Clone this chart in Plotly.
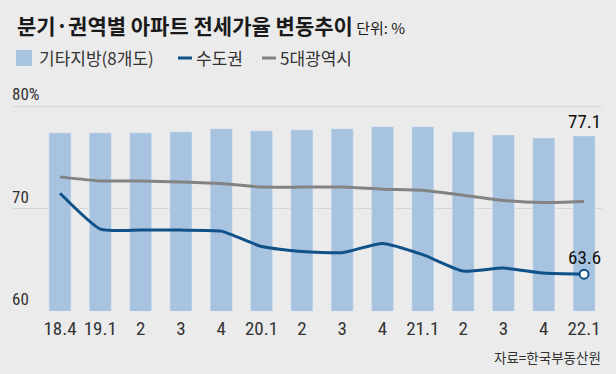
import plotly.graph_objects as go

categories = ["18.4", "19.1", "2 ", "3 ", "4 ", "20.1", "2  ", "3  ", "4  ", "21.1", "2   ", "3   ", "4   ", "22.1"]
tick_labels = ["18.4", "19.1", "2", "3", "4", "20.1", "2", "3", "4", "21.1", "2", "3", "4", "22.1"]
local_8 = [77.4, 77.4, 77.4, 77.5, 77.8, 77.6, 77.7, 77.8, 78.0, 78.0, 77.5, 77.2, 76.9, 77.1]
capital = [71.5, 68.0, 67.9, 67.9, 67.8, 66.3, 65.8, 65.7, 66.6, 65.5, 63.9, 64.2, 63.7, 63.6]
metro5 = [73.1, 72.7, 72.7, 72.6, 72.45, 72.1, 72.1, 72.1, 71.9, 71.8, 71.3, 70.8, 70.6, 70.7]

BG = "#ebebeb"
BAR = "#a8c3e0"
BLUE = "#0f5189"
GRAY = "#838383"
NUM_FONT = "Liberation Sans Narrow, Roboto Condensed, DejaVu Sans Condensed, Noto Sans CJK KR, sans-serif"
KR_FONT = "Noto Sans CJK KR, Noto Sans, sans-serif"

W, H = 616, 374
L, R, T, B = 13, 14, 70, 63
PW, PH = W - L - R, H - T - B


def px(x):
    return (x - L) / PW


def py(y):
    return (H - B - y) / PH


last = len(categories) - 1

fig = go.Figure()
fig.add_trace(go.Bar(x=categories, y=local_8, name="기타지방(8개도)", marker_color=BAR,
                     width=0.55, base=0, showlegend=False, hoverinfo="y"))
fig.add_trace(go.Scatter(x=categories, y=metro5, name="5대광역시", mode="lines",
                         line=dict(color=GRAY, width=3, shape="spline", smoothing=0.5),
                         showlegend=False))
fig.add_trace(go.Scatter(x=categories, y=capital, name="수도권", mode="lines",
                         line=dict(color=BLUE, width=3, shape="spline", smoothing=0.5),
                         showlegend=False))
fig.add_trace(go.Scatter(x=[categories[-1]], y=[capital[-1]], mode="markers",
                         marker=dict(color="white", size=9, line=dict(color=BLUE, width=2)),
                         showlegend=False, hoverinfo="skip"))

fig.update_layout(
    width=W, height=H,
    margin=dict(l=L, r=R, t=T, b=B),
    paper_bgcolor=BG, plot_bgcolor=BG,
    xaxis=dict(type="category", range=[-1.166, 13.445], tickmode="array",
               tickvals=categories, ticktext=tick_labels, showgrid=False,
               showline=False, ticks="", zeroline=False, ticklabelstandoff=4,
               tickfont=dict(family=NUM_FONT, size=19, color="#333333")),
    yaxis=dict(range=[60, 83.54], tickmode="array", tickvals=[60, 70, 80],
               ticktext=["60", "70", "80%"], ticklabelposition="inside top",
               ticklabelstandoff=-4,
               showgrid=True, gridcolor="#d6d6d6", gridwidth=1, zeroline=False,
               showline=False, ticks="",
               tickfont=dict(family=NUM_FONT, size=17, color="#333333")),
    font=dict(family=KR_FONT, color="#222222"),
    showlegend=False,
)

annotations = [
    dict(x=px(15), y=py(25), xref="paper", yref="paper", xanchor="left", yanchor="middle",
         text="<b>분기·권역별 아파트 전세가율 변동추이</b><span style='font-size:15px'> 단위: %</span>",
         showarrow=False, font=dict(family=KR_FONT, size=21, color="#1a1a1a")),
    dict(x=px(37), y=py(58), xref="paper", yref="paper", xanchor="left", yanchor="middle",
         text="기타지방(8개도)", showarrow=False, font=dict(family=KR_FONT, size=17, color="#333333")),
    dict(x=px(194), y=py(58), xref="paper", yref="paper", xanchor="left", yanchor="middle",
         text="수도권", showarrow=False, font=dict(family=KR_FONT, size=17, color="#333333")),
    dict(x=px(278), y=py(58), xref="paper", yref="paper", xanchor="left", yanchor="middle",
         text="5대광역시", showarrow=False, font=dict(family=KR_FONT, size=17, color="#333333")),
    dict(x=px(603), y=py(357), xref="paper", yref="paper", xanchor="right", yanchor="middle",
         text="자료=한국부동산원", showarrow=False, font=dict(family=KR_FONT, size=13.5, color="#333333")),
    dict(x=last, y=local_8[-1], xref="x", yref="y", yanchor="bottom", yshift=1,
         text=f"{local_8[-1]}", showarrow=False, font=dict(family=NUM_FONT, size=19, color="#111111")),
    dict(x=last, y=capital[-1], xref="x", yref="y", yanchor="bottom", yshift=3,
         text=f"{capital[-1]}", showarrow=False, font=dict(family=NUM_FONT, size=19, color="#111111")),
]
fig.update_layout(annotations=annotations)

shapes = [
    dict(type="rect", xref="paper", yref="paper", x0=px(16), x1=px(32), y0=py(66), y1=py(50),
         fillcolor=BAR, line=dict(width=0)),
    dict(type="line", xref="paper", yref="paper", x0=px(178), x1=px(192), y0=py(58), y1=py(58),
         line=dict(color=BLUE, width=3)),
    dict(type="line", xref="paper", yref="paper", x0=px(262), x1=px(276), y0=py(58), y1=py(58),
         line=dict(color=GRAY, width=3)),
]
fig.update_layout(shapes=shapes)

fig.write_html("out.html", config={"displayModeBar": False},
               post_script="document.body.style.margin='0';document.body.style.background='#ebebeb';")
